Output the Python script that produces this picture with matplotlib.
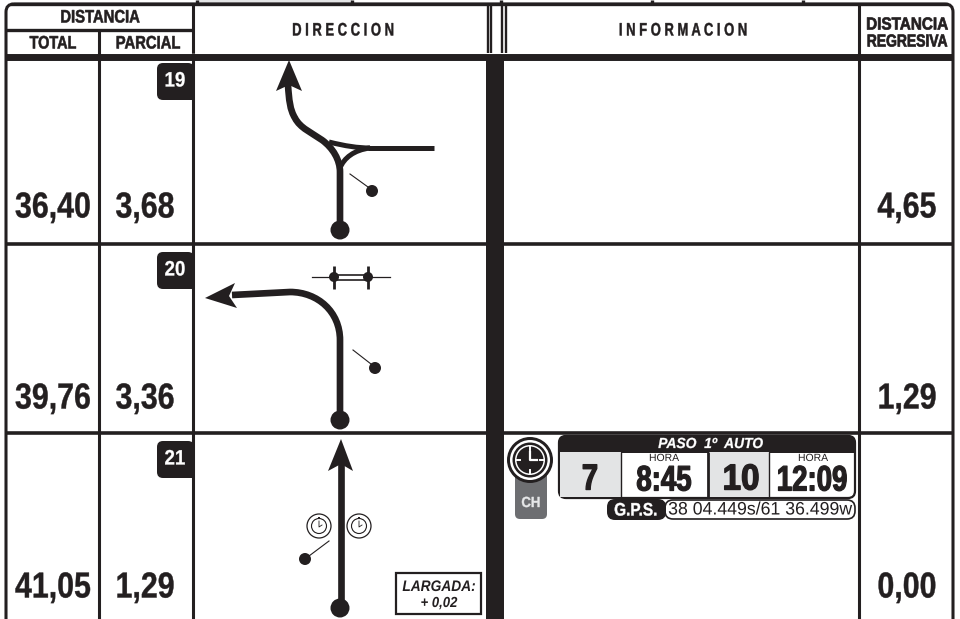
import matplotlib
matplotlib.use("Agg")
import matplotlib.pyplot as plt
from matplotlib.patches import Circle, FancyBboxPatch, Polygon, Rectangle, PathPatch
from matplotlib.patheffects import AbstractPathEffect
from matplotlib.path import Path
from matplotlib.transforms import Affine2D

INK = "#231f20"
GREY = "#e3e4e5"
MID = "#6d6e71"
SANS = ["Liberation Sans"]

# table values
totals = ["36,40", "39,76", "41,05"]
partials = ["3,68", "3,36", "1,29"]
remaining = ["4,65", "1,29", "0,00"]
box_numbers = ["19", "20", "21"]
row_tops = [60, 245, 434]
value_y = [208, 399, 588]

# route drawings, in page pixels
route19 = [(340, 228), (340, 172), (340, 160), (333, 148), (322, 140),
           (312, 133), (300, 128), (295, 118), (290, 110), (289, 100), (288, 85)]
branch19 = [(329, 142), (345, 146), (358, 148), (370, 148)]
branch19b = [(340, 168), (344, 158), (354, 150), (370, 148)]
route20 = [(340, 418), (340, 340), (340, 312), (318, 292), (290, 292), (232, 295)]


# narrows the glyph outlines about the middle of the text, the installed
# fonts have no condensed cut
class Squeeze(AbstractPathEffect):
    def __init__(self, factor, bold=0.0):
        super().__init__()
        self.factor = factor
        self.bold = bold

    def draw_path(self, renderer, gc, tpath, affine, rgbFace=None):
        box = tpath.get_extents(affine)
        cx = (box.x0 + box.x1) / 2
        squeezed = affine + Affine2D().translate(-cx, 0).scale(self.factor, 1).translate(cx, 0)
        gc0 = renderer.new_gc()
        gc0.copy_properties(gc)
        gc0.set_linewidth(self.bold)
        gc0.set_foreground(rgbFace)
        renderer.draw_path(gc0, tpath, squeezed, rgbFace)
        gc0.restore()


fig = plt.figure(figsize=(9.6, 6.19), dpi=100)
ax = fig.add_axes([0, 0, 1, 1])
ax.set_xlim(0, 960)
ax.set_ylim(619, 0)
ax.axis("off")


def hline(y, x0, x1, lw=3.0):
    ax.plot([x0, x1], [y, y], color=INK, lw=lw, solid_capstyle="butt")


def vline(x, y0, y1, lw=2.2):
    ax.plot([x, x], [y0, y1], color=INK, lw=lw, solid_capstyle="butt")


def label(x, y, s, size, squeeze=1.0, bold=0.0, weight="bold", color=INK, style="normal"):
    t = ax.text(x, y, s, fontsize=size, family=SANS, fontweight=weight, color=color,
                fontstyle=style, ha="center", va="center", zorder=6)
    t.set_path_effects([Squeeze(squeeze, bold)])


def smooth(pts, lw):
    # straight start, then cubic pieces through the listed control points
    codes = [Path.MOVETO, Path.LINETO]
    rest = len(pts) - 2
    codes += [Path.CURVE4] * (rest - rest % 3) + [Path.LINETO] * (rest % 3)
    ax.add_patch(PathPatch(Path(pts, codes), fc="none", ec=INK, lw=lw, capstyle="butt", joinstyle="round"))


def bezier(pts, lw):
    codes = [Path.MOVETO, Path.CURVE4, Path.CURVE4, Path.CURVE4]
    ax.add_patch(PathPatch(Path(pts, codes), fc="none", ec=INK, lw=lw, capstyle="butt"))


# top strip above the table
ax.add_patch(Rectangle((197, 0), 155, 3, fc=GREY, ec="none"))
for x in [197, 352, 501, 652, 803]:
    vline(x, 0, 4, 2.4)

# outer frame with rounded top corners
frame = FancyBboxPatch((6, 4), 947, 700, boxstyle="round,pad=0,rounding_size=8",
                       fc="none", ec=INK, lw=2.2)
ax.add_patch(frame)
hline(4, 10, 948, 2.4)

# header
hline(30, 6, 193, 2.4)
hline(56.5, 6, 953, 5.0)
vline(193, 5, 53)
vline(99, 30, 619)
vline(193, 53, 619)
vline(859, 5, 619)
for x in [487.5, 491, 501.5, 505.5]:
    vline(x, 5, 53, 1.7)
ax.add_patch(Rectangle((486, 56), 18, 563, fc=INK, ec="none"))

label(100, 18, "DISTANCIA", 13, 0.82, 0.4)
label(53, 44, "TOTAL", 13, 0.8, 0.4)
label(148, 44, "PARCIAL", 13, 0.82, 0.4)
label(343, 31, "D I R E C C I O N", 13, 0.72, 0.3)
label(683, 31, "I N F O R M A C I O N", 13, 0.72, 0.3)
label(907, 25, "DISTANCIA", 12.5, 0.88, 0.5)
label(907, 42, "REGRESIVA", 12.5, 0.8, 0.5)

# rows
for top, y, tot, par, rem, num in zip(row_tops, value_y, totals, partials, remaining, box_numbers):
    if top > 60:
        hline(top - 1, 6, 486, 2.6)
        hline(top - 1, 504, 953, 2.6)
    label(53, y, tot, 26, 0.84, 0.3)
    label(145, y, par, 26, 0.84, 0.3)
    label(907, y, rem, 26, 0.84, 0.3)
    box_y = top + (3 if top == 60 else 7)
    ax.add_patch(FancyBboxPatch((157, box_y), 37, 37, boxstyle="round,pad=0,rounding_size=6",
                                fc=INK, ec="none"))
    ax.add_patch(Rectangle((180, box_y + 20), 14, 17, fc=INK, ec="none"))
    label(175, box_y + 18, num, 15, 0.9, 0.2, color="white")

# row 19 drawing
smooth(route19, 4.8)
bezier(branch19, 3.6)
hline(148, 368, 434, 3.6)
bezier(branch19b, 3.6)
ax.add_patch(Polygon([(289, 60), (276, 91), (289, 85), (302, 91)], fc=INK, ec="none"))
ax.add_patch(Circle((340, 230), 9.5, fc=INK, ec="none"))
ax.add_patch(Circle((372, 191), 6, fc=INK, ec="none"))
ax.plot([350, 368], [174, 187], color=INK, lw=0.8)

# row 20 drawing
smooth(route20, 4.8)
ax.add_patch(Polygon([(205, 298), (235, 283), (229, 296), (237, 308)], fc=INK, ec="none"))
ax.add_patch(Circle((340, 420), 9.5, fc=INK, ec="none"))
ax.add_patch(Circle((375, 368), 6, fc=INK, ec="none"))
ax.plot([353, 371], [350, 364], color=INK, lw=0.8)
ax.plot([312, 390], [277, 277], color=INK, lw=0.9)
ax.add_patch(Rectangle((334, 275), 34, 5, fc="white", ec=INK, lw=1.2, zorder=3))
for x in [334, 368]:
    ax.add_patch(Circle((x, 277), 5, fc=INK, ec="none", zorder=4))
    ax.plot([x, x], [266, 289], color=INK, lw=2.0, solid_capstyle="butt", zorder=4)

# row 21 drawing
ax.plot([341, 341], [608, 462], color=INK, lw=4.8, solid_capstyle="butt")
ax.add_patch(Polygon([(341, 439), (328, 471), (341, 464), (353, 471)], fc=INK, ec="none"))
ax.add_patch(Circle((340, 608), 9.5, fc=INK, ec="none"))
ax.add_patch(Circle((305, 559), 6, fc=INK, ec="none"))
ax.plot([309, 329], [556, 541], color=INK, lw=0.8)
for cx in [319, 359]:
    ax.add_patch(Circle((cx, 526), 12, fc="white", ec=INK, lw=0.9))
    ax.add_patch(Circle((cx, 526), 7.5, fc="white", ec=INK, lw=0.8))
    ax.plot([cx, cx, cx + 3], [521, 527, 525], color=INK, lw=0.6)
    ax.add_patch(Rectangle((cx - 1, 517), 2, 2, fc=INK, ec="none"))
ax.add_patch(Rectangle((396, 573), 85, 41, fc="white", ec=INK, lw=1.6))
label(439, 587, "LARGADA:", 11, 0.9, style="italic")
label(439, 603, "+ 0,02", 10.5, 0.9, style="italic")

# control point panel
ax.add_patch(FancyBboxPatch((515, 470), 32, 49, boxstyle="round,pad=0,rounding_size=5", fc=MID, ec="none"))
label(531, 503, "CH", 10.5, 0.9, 0.3, color="#e6e7e8")
for r, c in [(23, INK), (20, "white"), (17.5, INK), (15, "white"), (13.5, INK)]:
    ax.add_patch(Circle((530, 460), r, fc=c, ec="none"))
ax.plot([530, 530, 537], [452, 460, 460], color="white", lw=1.6, zorder=3)
for dx, dy in [(0, -13), (0, 13), (-13, 0), (13, 0)]:
    ax.plot([530 + dx, 530 + dx * 0.75], [460 + dy, 460 + dy * 0.75], color="white", lw=1.4)

ax.add_patch(FancyBboxPatch((559, 436), 296, 62, boxstyle="round,pad=0,rounding_size=7", fc="white", ec=INK, lw=1.6))
ax.add_patch(FancyBboxPatch((559, 436), 296, 16, boxstyle="round,pad=0,rounding_size=6", fc=INK, ec=INK, lw=0.8))
ax.add_patch(Rectangle((559, 444), 296, 9, fc=INK, ec="none"))
ax.add_patch(Rectangle((560, 452), 61, 45, fc=GREY, ec="none"))
ax.add_patch(Rectangle((709, 452), 60, 45, fc=GREY, ec="none"))
for x, w in [(621, 1.0), (708, 2.0), (769, 1.0)]:
    vline(x, 452, 498, w)
label(711, 444, "PASO  1º  AUTO", 10.5, 0.95, 0.2, color="white", style="italic")
label(590, 480, "7", 26, 0.8, 1.0)
label(664, 458, "HORA", 7.5, 1.0, weight="normal")
label(664, 481, "8:45", 25.5, 0.78, 0.9)
label(741, 480, "10", 26, 0.92, 1.0)
label(813, 458, "HORA", 7.5, 1.0, weight="normal")
label(812, 481, "12:09", 25.5, 0.78, 0.9)

ax.add_patch(FancyBboxPatch((665, 500), 190, 19, boxstyle="round,pad=0,rounding_size=8", fc="white", ec=INK, lw=1.2))
ax.add_patch(FancyBboxPatch((607, 499), 59, 21, boxstyle="round,pad=0,rounding_size=8", fc=INK, ec="none"))
label(636, 511, "G.P.S.", 13, 0.85, 0.3, color="white")
label(760, 510, "38 04.449s/61 36.499w", 13, 0.98, weight="normal")

fig.savefig("out.png", dpi=100)
